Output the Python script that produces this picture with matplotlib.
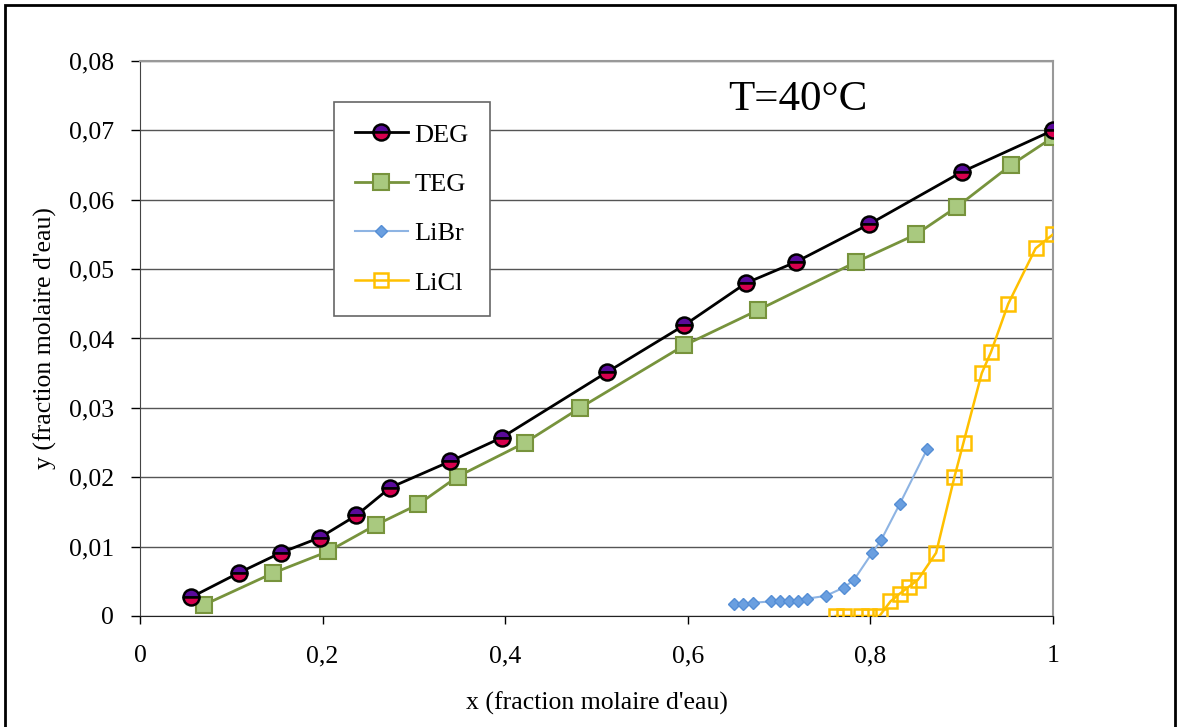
import matplotlib.pyplot as plt
from matplotlib.patches import Rectangle
from matplotlib.ticker import FuncFormatter

plt.rcParams['font.family'] = ['Liberation Serif', 'DejaVu Serif']

# DEG
deg_x = [0.056, 0.108, 0.154, 0.197, 0.237, 0.274, 0.340, 0.396, 0.511, 0.596,
         0.664, 0.718, 0.799, 0.900, 1.0]
deg_y = [0.0027, 0.0062, 0.0091, 0.0113, 0.0145, 0.0185, 0.0223, 0.0257, 0.0351, 0.0419,
         0.048, 0.051, 0.0565, 0.064, 0.070]
# TEG
teg_x = [0.070, 0.146, 0.206, 0.258, 0.305, 0.348, 0.422, 0.482, 0.596, 0.677,
         0.784, 0.850, 0.895, 0.954, 1.0]
teg_y = [0.0016, 0.0062, 0.0093, 0.0131, 0.0161, 0.0201, 0.025, 0.030, 0.039, 0.0441,
         0.051, 0.055, 0.059, 0.065, 0.069]
# LiBr
libr_x = [0.651, 0.661, 0.671, 0.691, 0.701, 0.711, 0.721, 0.731, 0.751, 0.771,
          0.782, 0.802, 0.812, 0.832, 0.862]
libr_y = [0.0017, 0.0017, 0.0019, 0.0021, 0.0022, 0.0022, 0.0022, 0.0025, 0.0029, 0.0041,
          0.0052, 0.0091, 0.011, 0.0161, 0.024]
# LiCl
licl_x = [0.762, 0.771, 0.790, 0.799, 0.810, 0.822, 0.832, 0.842, 0.852, 0.872,
          0.892, 0.902, 0.922, 0.932, 0.951, 0.981, 1.0]
licl_y = [0.0, 0.0, 0.0, 0.0, 0.0, 0.0021, 0.0032, 0.0042, 0.0052, 0.0091,
          0.020, 0.025, 0.035, 0.038, 0.045, 0.053, 0.055]

fig = plt.figure(figsize=(11.81, 7.27), dpi=100)
ax = fig.add_axes([0.1185, 0.1527, 0.7731, 0.7634])

ax.plot(deg_x, deg_y, color='black', lw=2, marker='o', ms=11.5, mew=1.8,
        mec='black', mfc='#5a0a9a', fillstyle='top', markerfacecoloralt='#d8004e',
        label='DEG', zorder=4)
ax.plot(teg_x, teg_y, color='#77933C', lw=2, marker='s', ms=11.5, mew=1.5,
        mec='#77933C', mfc='#a9c97f', label='TEG', zorder=3)
ax.plot(libr_x, libr_y, color='#8EB4E3', lw=1.5, marker='D', ms=6.5, mew=1,
        mec='#558ED5', mfc='#6a9fe0', label='LiBr', zorder=3)
ax.plot(licl_x, licl_y, color='#FFC000', lw=1.8, marker='s', ms=10, mew=1.8,
        mec='#FFC000', mfc='none', label='LiCl', zorder=3)

ax.set_xlim(0, 1)
ax.set_ylim(0, 0.08)
ax.set_xticks([0, 0.2, 0.4, 0.6, 0.8, 1.0])
ax.set_yticks([0, 0.01, 0.02, 0.03, 0.04, 0.05, 0.06, 0.07, 0.08])
fmt = lambda v, p: '0' if v == 0 else ('1' if v == 1 else ('%g' % round(v, 3)).replace('.', ','))
ax.xaxis.set_major_formatter(FuncFormatter(fmt))
ax.yaxis.set_major_formatter(FuncFormatter(fmt))
ax.tick_params(axis='x', direction='out', length=6, width=1, pad=15, labelsize=18.5)
ax.tick_params(axis='y', direction='out', length=6.5, width=1, pad=12, labelsize=18.5)

ax.grid(axis='y', color='#555555', lw=1)
ax.set_axisbelow(True)
ax.spines['top'].set_color('#999999')
ax.spines['right'].set_color('#999999')
ax.spines['top'].set_linewidth(1.5)
ax.spines['right'].set_linewidth(1.5)
ax.spines['left'].set_color('#444444')
ax.spines['bottom'].set_color('#222222')

ax.set_xlabel("x (fraction molaire d'eau)", fontsize=18.5)
ax.set_ylabel("y (fraction molaire d'eau)", fontsize=18.5)
ax.xaxis.set_label_coords(0.5, -0.137)
ax.yaxis.set_label_coords(-0.091, 0.5)

ax.text(0.72, 0.93, 'T=40°C', transform=ax.transAxes, fontsize=31,
        ha='center', va='center')

leg = ax.legend(loc='upper left', bbox_to_anchor=(0.2125, 0.926), fontsize=19,
                frameon=True, fancybox=False, edgecolor='#666666', framealpha=1,
                handlelength=2.0, handletextpad=0.25, labelspacing=0.98,
                borderpad=0.8, borderaxespad=0)
leg.get_frame().set_linewidth(1.2)

fig.patches.append(Rectangle((0.004, -0.01), 0.991, 1.003, transform=fig.transFigure,
                             fill=False, edgecolor='black', lw=2))

fig.savefig('out.png', dpi=100)
